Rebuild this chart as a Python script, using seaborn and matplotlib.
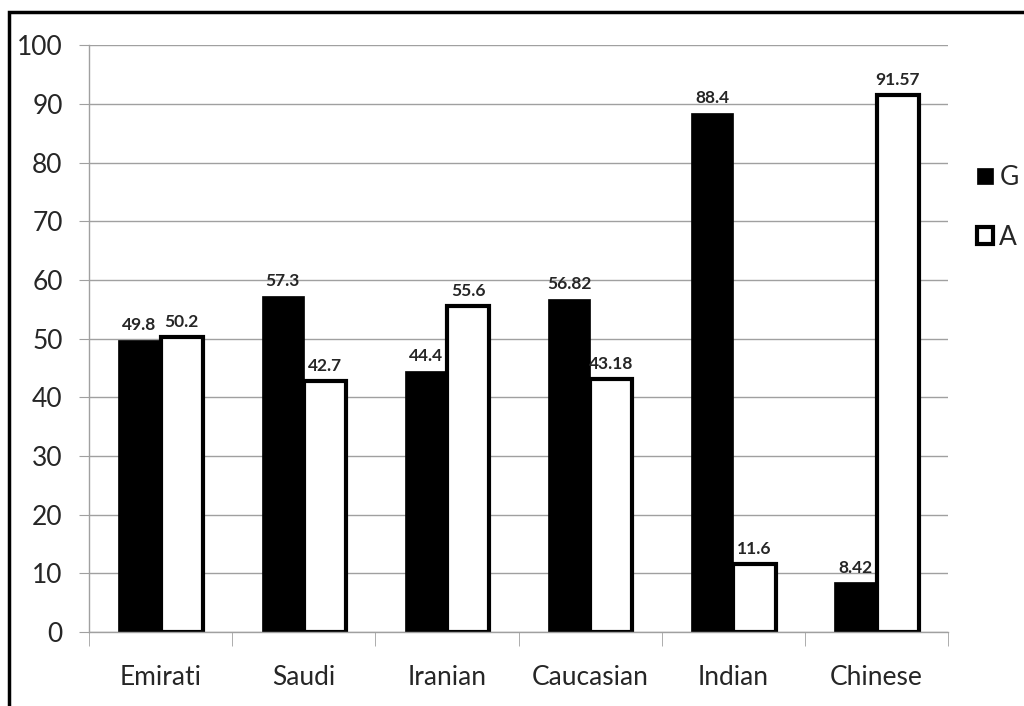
import pandas as pd
import seaborn as sns
import matplotlib.pyplot as plt
from matplotlib.patches import Patch, Rectangle

categories = ['Emirati', 'Saudi', 'Iranian', 'Caucasian', 'Indian', 'Chinese']
g_values = [49.8, 57.3, 44.4, 56.82, 88.4, 8.42]
a_values = [50.2, 42.7, 55.6, 43.18, 11.6, 91.57]
g_labels = ['49.8', '57.3', '44.4', '56.82', '88.4', '8.42']
a_labels = ['50.2', '42.7', '55.6', '43.18', '11.6', '91.57']

df = pd.DataFrame({
    'group': categories * 2,
    'value': g_values + a_values,
    'allele': ['G'] * len(categories) + ['A'] * len(categories),
})

sns.set_style('white')
plt.rcParams['font.family'] = ['Lato', 'DejaVu Sans']

fig = plt.figure(figsize=(10.24, 7.06), dpi=100)
ax = fig.add_axes([0.087, 0.105, 0.839, 0.831])

sns.barplot(data=df, x='group', y='value', hue='allele', palette=['black', 'white'],
            width=0.59, gap=0, ax=ax, legend=False, saturation=1)

for bar in ax.containers[0]:
    bar.set_edgecolor('black')
    bar.set_linewidth(0.5)
for bar in ax.containers[1]:
    bar.set_edgecolor('black')
    bar.set_linewidth(3)

ax.bar_label(ax.containers[0], labels=g_labels, padding=5, fontsize=12.5, fontweight='bold')
ax.bar_label(ax.containers[1], labels=a_labels, padding=5, fontsize=12.5, fontweight='bold')

ax.set_ylim(0, 100)
ax.set_xlim(-0.5, 5.5)
ax.set_yticks(range(0, 101, 10))
ax.yaxis.grid(True, color='#a0a0a0', linewidth=1)
ax.set_axisbelow(True)
ax.set_xlabel('')
ax.set_ylabel('')

for side in ['top', 'right']:
    ax.spines[side].set_visible(False)
for side in ['left', 'bottom']:
    ax.spines[side].set_color('#a0a0a0')
    ax.spines[side].set_linewidth(1)

ax.tick_params(axis='y', left=True, length=7, color='#a0a0a0', labelsize=19, pad=12)
ax.tick_params(axis='x', bottom=False, labelsize=19, pad=20)
ax.set_xticks(range(len(categories)), categories)
ax.set_xticks([i + 0.5 for i in range(-1, len(categories))], minor=True)
ax.tick_params(axis='x', which='minor', bottom=True, length=10, color='#a0a0a0')

handles = [Patch(facecolor='black', edgecolor='black', linewidth=0.5, label='G'),
           Patch(facecolor='white', edgecolor='black', linewidth=3, label='A')]
fig.legend(handles=handles, loc='center left', bbox_to_anchor=(0.954, 0.706), frameon=False,
           fontsize=19, handlelength=0.6, handleheight=0.6, handletextpad=0.25,
           labelspacing=1.3, borderaxespad=0, borderpad=0)

fig.patches.append(Rectangle((0.009, -0.01), 1.02, 0.993, transform=fig.transFigure,
                             fill=False, edgecolor='black', linewidth=2.5))

plt.savefig('out.png', dpi=100)
